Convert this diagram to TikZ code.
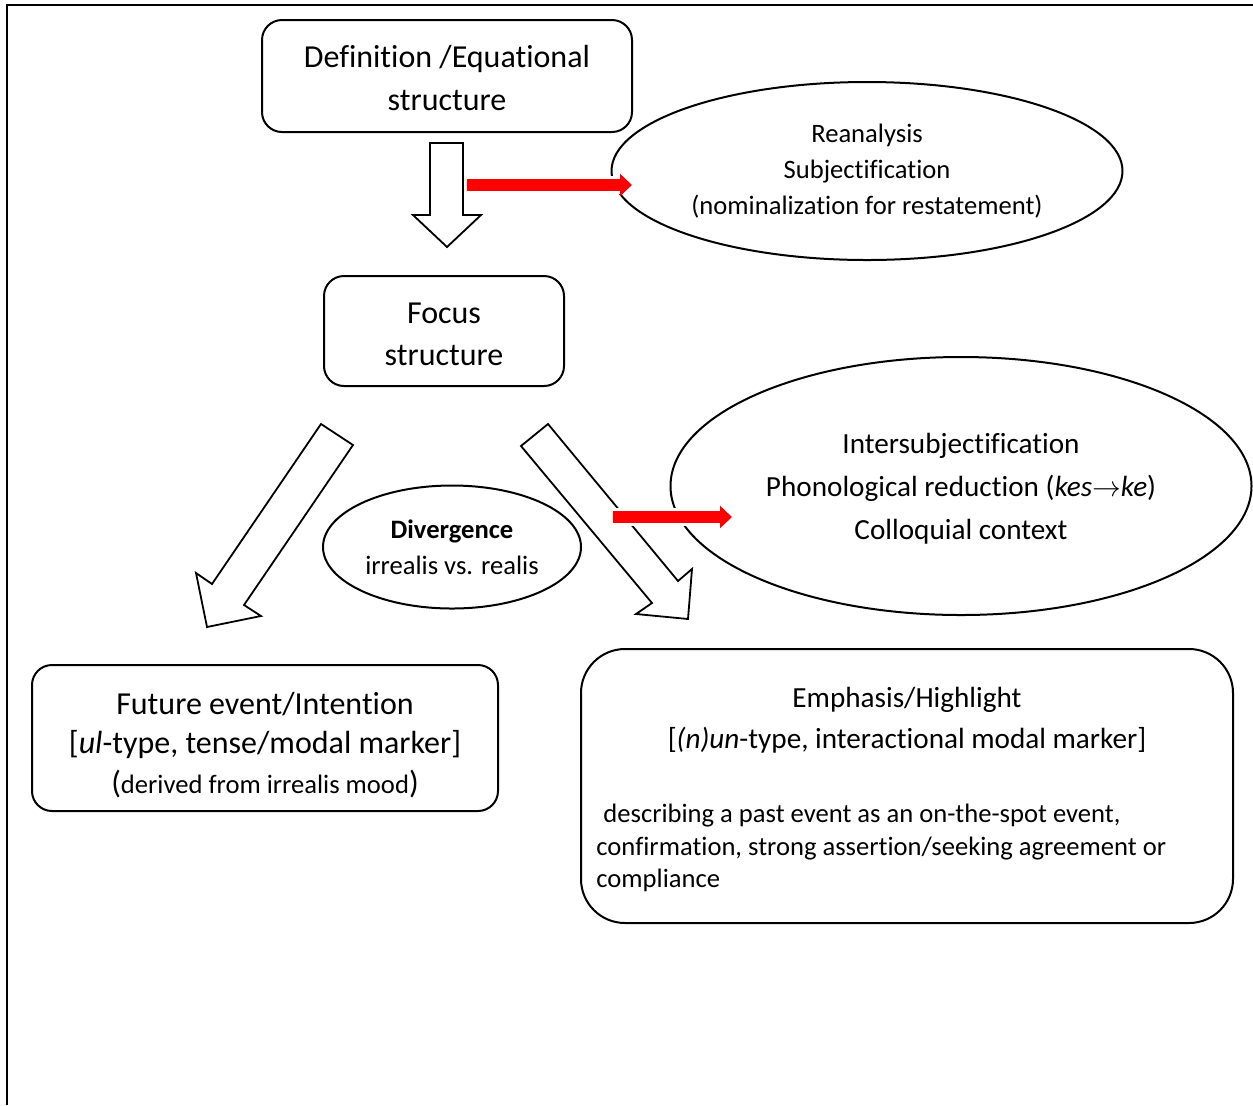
\documentclass[tikz,border=0pt]{standalone}
\usepackage{fontspec}
\setmainfont{Carlito}[Ligatures=CommonOff]
\usetikzlibrary{shapes.geometric,arrows.meta}
\newcommand{\largetxt}{\fontsize{16}{21}\selectfont}
\newcommand{\midtxt}{\fontsize{14.6}{20.5}\selectfont}
\newcommand{\smalltxt}{\fontsize{13.3}{18}\selectfont}
\tikzset{
	box/.style={draw,line width=1pt,rounded corners=10pt},
	oval/.style={draw,ellipse,line width=1pt,align=center,inner sep=0pt},
	txt/.style={align=center,inner sep=0pt},
	blockarrow/.style={draw,fill=white,line width=.9pt,line join=miter},
	redarrow/.style={draw=red,line width=6pt,-{Triangle[length=6pt,width=11pt]},preaction={draw=white,line width=9pt,-}},
}
\begin{document}
\begin{tikzpicture}[x=.5pt,y=-.5pt]
	\useasboundingbox (0,0) rectangle (1253,1105);
	\draw[line width=1.4pt] (7,1105) -- (7,5) -- (1253,5);
	
	% upper part
	\node[box,minimum width=185pt,minimum height=56pt] (def) at (447,76) {};
	\node[txt,font=\largetxt] (deftxt) at (447,78) {Definition /Equational\\structure};
	\node[oval,minimum width=255.5pt,minimum height=89pt,font=\smalltxt] (rean) at (867,171) {Reanalysis\\Subjectification\\(nominalization for restatement)};
	\draw[blockarrow] (430,143) -- (463,143) -- (463,215) -- (481,215) -- (447,247) -- (413,215) -- (430,215) -- cycle;
	\coordinate (r1a) at (467,185); \coordinate (r1b) at (632,185);
	\draw[redarrow] (r1a) -- (r1b);
	
	\node[box,minimum width=120pt,minimum height=55pt] (focus) at (444,331) {};
	\node[txt,font=\largetxt] (focustxt) at (444,334) {Focus\\structure};
	
	% the two ways out
	\draw[blockarrow] (321,424) -- (353,445) -- (244,605) -- (261,616) -- (207,627) -- (196,573) -- (212,584) -- cycle;
	\draw[blockarrow] (548,424) -- (521,446) -- (652,603) -- (636,614) -- (688,619) -- (692,569) -- (678,581) -- cycle;
	\node[oval,minimum width=129pt,minimum height=61.5pt,font=\smalltxt] (div) at (452,547) {\textbf{Divergence}\\irrealis vs. realis};
	\node[oval,minimum width=290.5pt,minimum height=129pt] (inter) at (961,486) {};
	\node[txt,font=\fontsize{14.6}{21.5}\selectfont] (intertxt) at (961,489) {Intersubjectification\\Phonological reduction (\textit{kes}$\rightarrow$\textit{ke})\\Colloquial context};
	\coordinate (r2a) at (613,517); \coordinate (r2b) at (732,517);
	\draw[redarrow] (r2a) -- (r2b);
	
	% lower part
	\node[box,minimum width=233pt,minimum height=73pt] (future) at (265,738) {};
	\node[txt,font=\fontsize{16}{19.75}\selectfont] (futuretxt) at (265,745) {Future event/Intention\\{}[\textit{ul}-type, tense/modal marker]\\({\smalltxt derived from irrealis mood})};
	\node[box,rounded corners=22pt,minimum width=326pt,minimum height=137pt] (emph) at (907,786) {};
	\node[txt,font=\midtxt] (emphhead) at (907,720) {Emphasis/Highlight\\{}[\textit{(n)un}-type, interactional modal marker]};
	\node[font=\fontsize{13.3}{16.25}\selectfont,align=left,inner sep=0pt,anchor=west] (emphbody) at (596,848) {\hspace*{3.5pt}describing a past event as an on-the-spot event,\\confirmation, strong assertion/seeking agreement or\\compliance};
\end{tikzpicture}
\end{document}
